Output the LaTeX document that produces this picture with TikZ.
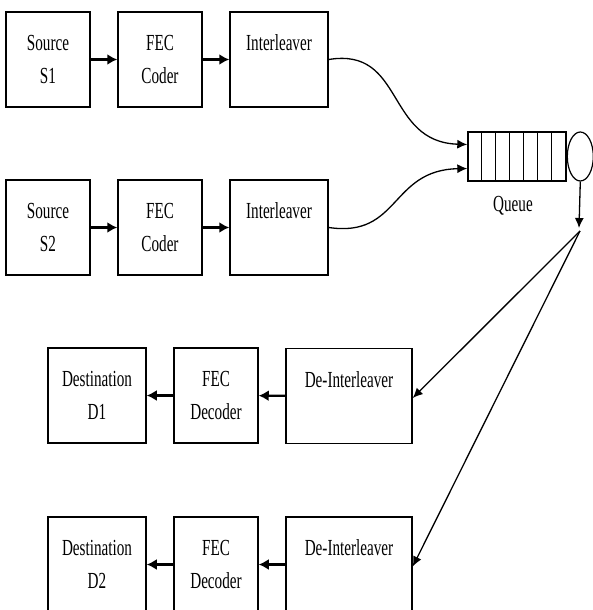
\documentclass[tikz,border=0pt]{standalone}
\usepackage{fontspec}
\setmainfont{Liberation Serif}[FakeStretch=0.66]
\usetikzlibrary{arrows.meta,positioning,shapes.geometric}

\begin{document}
\begin{tikzpicture}[x=1pt,y=-1pt,
	box/.style={draw,line width=1.5pt,align=center,inner sep=0pt,minimum width=84pt,minimum height=95pt},
	flow/.style={-{Latex[length=10pt,width=11pt]},line width=2.4pt},
	link/.style={-{Latex[length=10pt,width=9pt]},line width=1.3pt},
	font=\fontsize{23}{33}\selectfont]
\useasboundingbox (0,0) rectangle (592,610);
% senders
\node[box] (src1) at (48,59.5) {Source\\S1};
\node[box] (fec1) at (160,59.5) {FEC\\Coder};
\node[box,minimum width=98pt] (int1) at (279,59.5) {Interleaver\\\mbox{}};
\node[box] (src2) at (48,227.5) {Source\\S2};
\node[box] (fec2) at (160,227.5) {FEC\\Coder};
\node[box,minimum width=98pt] (int2) at (279,227.5) {Interleaver\\\mbox{}};
\draw[flow] (src1) -- (fec1);
\draw[flow] (fec1) -- (int1);
\draw[flow] (src2) -- (fec2);
\draw[flow] (fec2) -- (int2);
% queue and server
\node[draw,line width=1.4pt,minimum width=98pt,minimum height=49pt,inner sep=0pt] (queue) at (517,156.5) {};
\foreach \i in {1,...,6}
	\draw[line width=1.2pt] ([xshift=14*\i pt]queue.north west) -- ([xshift=14*\i pt]queue.south west);
\node[draw,ellipse,line width=1.2pt,minimum width=26pt,minimum height=49pt,inner sep=0pt,right=0pt of queue] (server) {};
\node (qlabel) at (513,206) {Queue};
\draw[link] (int1.east) .. controls (405,47) and (385,142) .. ([yshift=12pt]queue.west);
\draw[link] (int2.east) .. controls (400,238) and (390,170) .. ([yshift=-12pt]queue.west);
\coordinate (split) at (580,231);
\draw[link] (server.south) -- (579,228);
% receivers
\node[box,minimum width=98pt] (dst1) at (97,395.5) {Destination\\D1};
\node[box] (dec1) at (216,395.5) {FEC\\Decoder};
\node[box,minimum width=126pt] (dei1) at (349,396) {De-Interleaver\\\mbox{}};
\node[box,minimum width=98pt] (dst2) at (97,564.5) {Destination\\D2};
\node[box] (dec2) at (216,564.5) {FEC\\Decoder};
\node[box,minimum width=126pt] (dei2) at (349,564.5) {De-Interleaver\\\mbox{}};
\draw[link] (split) -- ([yshift=-2pt]dei1.east);
\draw[link] (split) -- ([yshift=-2pt]dei2.east);
\draw[flow] (dei1) -- (dec1);
\draw[flow] (dec1) -- (dst1);
\draw[flow] (dei2) -- (dec2);
\draw[flow] (dec2) -- (dst2);
\end{tikzpicture}
\end{document}
